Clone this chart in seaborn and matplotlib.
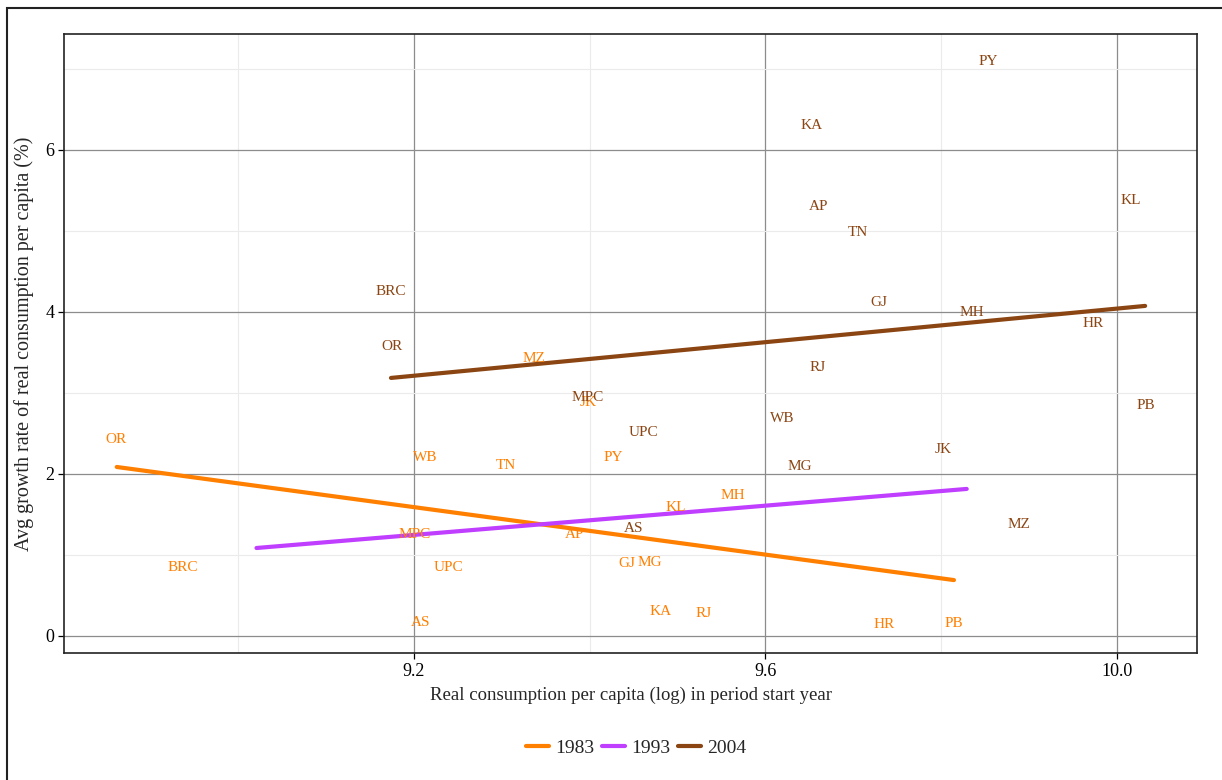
import matplotlib
matplotlib.use("Agg")
import numpy as np
import pandas as pd
import seaborn as sns
import matplotlib.pyplot as plt
from matplotlib.patches import Rectangle
from matplotlib.lines import Line2D

# state labels, log consumption at period start, avg growth (%)
states_1983 = ["OR", "BRC", "WB", "TN", "PY", "MZ", "JK", "MPC", "UPC", "AS",
               "AP", "KL", "MH", "GJ", "MG", "KA", "RJ", "HR", "PB"]
x_1983 = [8.861, 8.937, 9.2125, 9.305, 9.4265, 9.337, 9.398, 9.201, 9.239, 9.208,
          9.383, 9.498, 9.563, 9.442, 9.469, 9.481, 9.530, 9.735, 9.8145]
y_1983 = [2.42, 0.84, 2.20, 2.10, 2.20, 3.42, 2.88, 1.25, 0.84, 0.17,
          1.25, 1.58, 1.73, 0.89, 0.91, 0.30, 0.28, 0.14, 0.15]

states_2004 = ["PY", "KA", "AP", "TN", "KL", "GJ", "MH", "HR", "BRC", "OR",
               "RJ", "MPC", "UPC", "WB", "PB", "JK", "MG", "AS", "MZ"]
x_2004 = [9.853, 9.652, 9.661, 9.705, 10.016, 9.729, 9.835, 9.973, 9.174, 9.175,
          9.659, 9.398, 9.461, 9.619, 10.033, 9.802, 9.639, 9.450, 9.8885]
y_2004 = [7.09, 6.30, 5.30, 4.975, 5.38, 4.12, 3.99, 3.86, 4.25, 3.57,
          3.31, 2.94, 2.51, 2.69, 2.85, 2.30, 2.09, 1.33, 1.37]

# fitted lines per period (start / end)
fit_years = ["1983", "1983", "1993", "1993", "2004", "2004"]
fit_x = [8.862, 9.8145, 9.021, 9.829, 9.174, 10.032]
fit_y = [2.086, 0.69, 1.086, 1.815, 3.185, 4.074]

colors = {"1983": "#FF7F00", "1993": "#BF3EFF", "2004": "#8B4513"}

sns.set_theme(style="white")
plt.rcParams["font.family"] = ["Liberation Serif", "DejaVu Serif"]

fig = plt.figure(figsize=(12.22, 7.8), dpi=100)
ax = fig.add_axes([64 / 1222, 1 - 653 / 780, (1197 - 64) / 1222, (653 - 34) / 780])

fits = pd.DataFrame({"year": fit_years, "x": fit_x, "y": fit_y})
sns.lineplot(data=fits, x="x", y="y", hue="year", palette=colors, linewidth=3,
             legend=False, ax=ax, zorder=3)

for lab, xx, yy in zip(states_1983, x_1983, y_1983):
    ax.text(xx, yy, lab, color=colors["1983"], fontsize=11, ha="center", va="center", zorder=4)
for lab, xx, yy in zip(states_2004, x_2004, y_2004):
    ax.text(xx, yy, lab, color=colors["2004"], fontsize=11, ha="center", va="center", zorder=4)

ax.set_xlim(8.802, 10.091)
ax.set_ylim(-0.21, 7.43)
ax.set_xticks([9.2, 9.6, 10.0])
ax.set_xticklabels(["9.2", "9.6", "10.0"])
ax.set_yticks([0, 2, 4, 6])
ax.set_xticks([9.0, 9.4, 9.8], minor=True)
ax.set_yticks([1, 3, 5, 7], minor=True)
ax.grid(True, which="major", color="#8c8c8c", linewidth=0.9)
ax.grid(True, which="minor", color="#ebebeb", linewidth=0.8)
ax.set_axisbelow(True)
ax.tick_params(which="major", direction="out", length=4, width=0.9, color="black",
               labelsize=13, labelcolor="black", bottom=True, left=True, pad=3)
ax.tick_params(which="minor", length=0)
for s in ax.spines.values():
    s.set_color("#222222")
    s.set_linewidth(1.2)

ax.set_xlabel("Real consumption per capita (log) in period start year", fontsize=13.5, labelpad=5)
ax.set_ylabel("Avg growth rate of real consumption per capita (%)", fontsize=14.5, labelpad=8)

handles = [Line2D([0], [0], color=colors[k], linewidth=3) for k in ["1983", "1993", "2004"]]
fig.legend(handles, ["1983", "1993", "2004"], loc="center", bbox_to_anchor=(636 / 1222, 1 - 748 / 780),
           ncol=3, frameon=False, fontsize=14, handlelength=1.2, handletextpad=0.3,
           columnspacing=0.4)

# outer frame (cropped at right and bottom)
fig.patches.append(Rectangle((7 / 1222, -0.1), 1.2, 1.1 - 8 / 780, transform=fig.transFigure,
                             fill=False, edgecolor="#222222", linewidth=1.5))

fig.savefig("out.png", dpi=100)
